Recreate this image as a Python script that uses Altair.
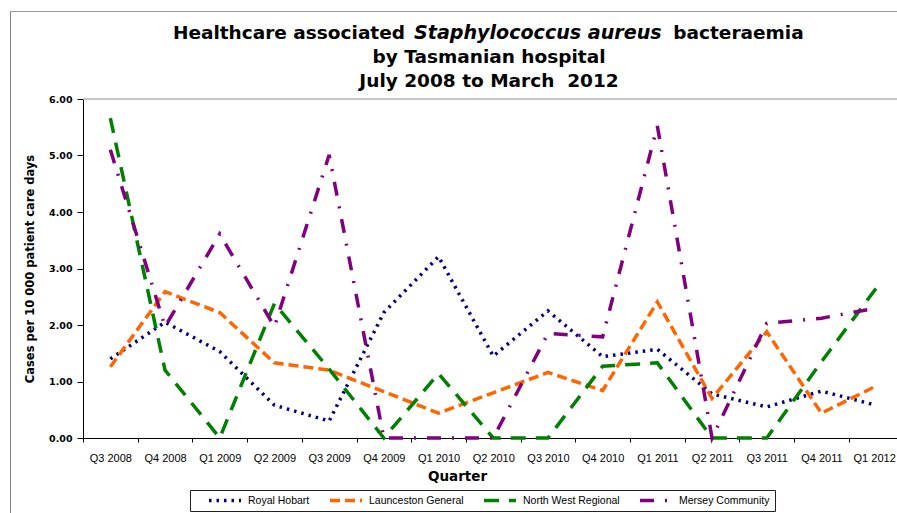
import altair as alt
import pandas as pd

quarters = ["Q3 2008", "Q4 2008", "Q1 2009", "Q2 2009", "Q3 2009", "Q4 2009",
            "Q1 2010", "Q2 2010", "Q3 2010", "Q4 2010", "Q1 2011", "Q2 2011",
            "Q3 2011", "Q4 2011", "Q1 2012"]
hospitals = ["Royal Hobart", "Launceston General", "North West Regional", "Mersey Community"]

royal_hobart = [1.40, 2.05, 1.53, 0.58, 0.30, 2.22, 3.21, 1.45, 2.25, 1.44, 1.57, 0.78, 0.55, 0.83, 0.58]
launceston = [1.26, 2.59, 2.22, 1.33, 1.20, 0.82, 0.44, 0.80, 1.16, 0.84, 2.41, 0.70, 1.88, 0.44, 0.92]
north_west = [5.66, 1.20, 0.00, 2.38, 1.22, 0.00, 1.14, 0.00, 0.00, 1.27, 1.33, 0.00, 0.00, 1.35, 2.65]
mersey = [5.10, 1.97, 3.61, 1.97, 5.01, 0.00, 0.00, 0.00, 1.85, 1.79, 5.52, 0.00, 2.03, 2.12, 2.30]

colors = ["#000080", "#FF6600", "#008000", "#800080"]
dashes = [[2.5, 5], [10, 5], [15, 10], [14, 11, 2, 11]]

title_l1a = "Healthcare associated"
title_l1b = "Staphylococcus aureus"
title_l1c = "bacteraemia"
title_l2 = "by Tasmanian hospital"
title_l3 = "July 2008 to March\u00a0 2012"
y_title = "Cases per 10 000 patient care days"
x_title = "Quarter"

rows = []
for h, vals in zip(hospitals, [royal_hobart, launceston, north_west, mersey]):
    for q, v in zip(quarters, vals):
        rows.append({"Quarter": q, "Hospital": h, "Rate": v})
df = pd.DataFrame(rows)

W, H = 814, 339
PL, PT = 83, 99

legend = alt.Legend(
    orient="none", legendX=107, legendY=391, direction="horizontal", title=None,
    symbolType="stroke", symbolSize=1024, symbolStrokeWidth=3.3, clipHeight=11,
    symbolOffset=12, labelOffset=5, columnPadding=6, padding=5,
    labelFont="Liberation Sans", labelFontSize=10.5, labelColor="black",
    strokeColor="#222222", fillColor="white",
)

lines = alt.Chart(df).mark_line(strokeWidth=3.5).encode(
    x=alt.X("Quarter:O", sort=quarters,
            scale=alt.Scale(type="band", domain=quarters, range=[0, 820.5],
                            paddingInner=0, paddingOuter=0),
            axis=alt.Axis(title=x_title, labelAngle=0, tickBand="extent", tickSize=4,
                          tickColor="black", domainColor="black", domainWidth=1,
                          labelFont="Liberation Sans", labelFontSize=11, labelColor="black",
                          labelBaseline="alphabetic", labelPadding=19.7, labelOverlap=False,
                          labelOffset={"condition": {"test": "datum.value == 'Q1 2012'", "value": -2},
                                       "value": 0},
                          titleFont="DejaVu Sans", titleFontSize=13.5, titleFontWeight="bold",
                          titleColor="black", titleX=374, titleY=42,
                          titleBaseline="alphabetic", titleAlign="center")),
    y=alt.Y("Rate:Q", scale=alt.Scale(domain=[0, 6], nice=False),
            axis=alt.Axis(values=[0, 1, 2, 3, 4, 5, 6], format=".2f", grid=False,
                          tickSize=6, tickColor="black", domainColor="black",
                          labelFont="DejaVu Sans", labelFontWeight="bold", labelFontSize=9.5,
                          labelColor="black", labelPadding=5,
                          title=y_title, titleFont="DejaVu Sans", titleFontSize=11.5,
                          titleFontWeight="bold", titleColor="black", titlePadding=13)),
    color=alt.Color("Hospital:N", scale=alt.Scale(domain=hospitals, range=colors), legend=legend),
    strokeDash=alt.StrokeDash("Hospital:N", scale=alt.Scale(domain=hospitals, range=dashes), legend=legend),
)


def txt(text, x, y, align, italic=False, size=18.5):
    return alt.Chart(pd.DataFrame({"t": [text]})).mark_text(
        align=align, baseline="alphabetic", font="DejaVu Sans", fontSize=size,
        fontWeight="bold", fontStyle="italic" if italic else "normal", color="black"
    ).encode(x=alt.value(x), y=alt.value(y), text="t:N")


one = pd.DataFrame({"k": [0]})
border_left = alt.Chart(one).mark_rule(color="#808080", strokeWidth=1).encode(
    x=alt.value(10.5 - PL), y=alt.value(11.5 - PT), y2=alt.value(440))
border_top = alt.Chart(one).mark_rule(color="#9a9a9a", strokeWidth=1).encode(
    y=alt.value(11.5 - PT), x=alt.value(10.5 - PL), x2=alt.value(900))
plot_top = alt.Chart(one).mark_rule(color="#b3b3b3", strokeWidth=1.3).encode(
    y=alt.value(0), x=alt.value(0), x2=alt.value(830))

chart = alt.layer(
    border_left, border_top, plot_top, lines,
    txt(title_l1a, 405 - PL, 39.3 - PT, "right"),
    txt(title_l1b, 414 - PL, 39.3 - PT, "left", italic=True, size=19.1),
    txt(title_l1c, 673.3 - PL, 39.3 - PT, "left"),
    txt(title_l2, 489 - PL, 63.3 - PT, "center"),
    txt(title_l3, 489 - PL, 86.5 - PT, "center"),
).properties(
    width=W, height=H,
    autosize=alt.AutoSizeParams(type="none"),
    padding={"left": PL, "top": PT, "right": 0, "bottom": 513 - PT - H},
).configure_view(stroke=None)

chart.save("out.html", embed_options={"renderer": "svg", "actions": False})
